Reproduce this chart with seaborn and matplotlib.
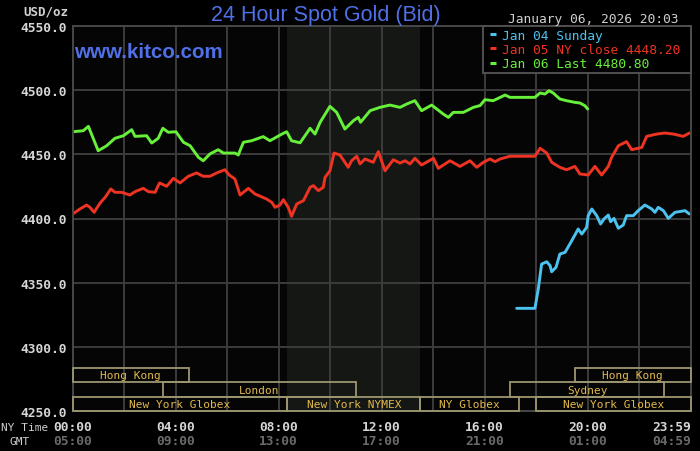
import pandas as pd
import matplotlib.pyplot as plt
import matplotlib.transforms as mtransforms
from matplotlib.lines import Line2D
from matplotlib.patches import Rectangle
import seaborn as sns

# Jan 04 Sunday (hours NY time, price)
jan04_hours = [17.24, 17.95, 18.08, 18.21, 18.41, 18.54, 18.60, 18.77, 18.92, 19.12,
               19.38, 19.63, 19.77, 19.96, 20.02, 20.16, 20.35, 20.50, 20.63, 20.80,
               20.89, 21.02, 21.19, 21.38, 21.51, 21.77, 21.96, 22.22, 22.49, 22.61,
               22.74, 22.94, 23.13, 23.39, 23.78, 23.95]
jan04_price = [4330.0, 4330.0, 4345.0, 4364.5, 4366.3, 4363.2, 4358.5, 4362.0, 4372.3, 4373.6,
               4382.7, 4391.8, 4387.9, 4393.1, 4402.2, 4407.4, 4402.2, 4395.7, 4399.6, 4402.7,
               4397.5, 4400.1, 4392.4, 4394.9, 4402.2, 4402.2, 4406.1, 4410.5, 4407.4, 4404.8,
               4408.7, 4406.1, 4400.1, 4404.8, 4406.1, 4403.5]

# Jan 05 NY close
jan05_hours = [0.00, 0.28, 0.54, 0.67, 0.83, 1.06, 1.26, 1.48, 1.64, 1.90,
               2.22, 2.42, 2.74, 2.94, 3.20, 3.37, 3.65, 3.91, 4.17, 4.49,
               4.81, 5.07, 5.33, 5.59, 5.91, 6.08, 6.30, 6.50, 6.82, 7.08,
               7.53, 7.73, 7.86, 8.05, 8.18, 8.37, 8.50, 8.70, 8.96, 9.22,
               9.35, 9.54, 9.73, 9.80, 9.99, 10.15, 10.38, 10.70, 10.83, 11.03,
               11.16, 11.35, 11.67, 11.87, 12.13, 12.45, 12.71, 12.91, 13.10, 13.29,
               13.55, 14.01, 14.20, 14.65, 15.04, 15.43, 15.69, 15.95, 16.20, 16.40,
               16.60, 16.98, 17.95, 18.15, 18.41, 18.60, 18.92, 19.18, 19.50, 19.70,
               20.02, 20.28, 20.54, 20.80, 20.93, 21.19, 21.51, 21.71, 22.10, 22.29,
               22.68, 23.00, 23.33, 23.71, 23.95]
jan05_price = [4403.5, 4407.4, 4410.5, 4408.7, 4404.8, 4412.0, 4416.5, 4423.0, 4420.4, 4420.4,
               4418.3, 4420.9, 4423.5, 4420.9, 4420.4, 4427.7, 4425.1, 4431.3, 4427.7, 4432.9,
               4435.5, 4432.9, 4432.9, 4435.5, 4438.0, 4433.9, 4430.8, 4418.3, 4423.5, 4419.1,
               4415.2, 4412.6, 4408.7, 4410.5, 4414.7, 4408.7, 4401.7, 4411.3, 4413.9, 4424.3,
               4425.6, 4421.7, 4424.3, 4432.1, 4437.2, 4451.0, 4449.5, 4439.9, 4445.0, 4448.5,
               4442.5, 4446.4, 4443.8, 4452.1, 4437.2, 4445.8, 4443.2, 4445.0, 4442.5, 4446.9,
               4441.7, 4446.9, 4439.1, 4445.0, 4440.6, 4445.0, 4439.9, 4443.8, 4446.4, 4444.3,
               4446.4, 4448.5, 4448.5, 4454.7, 4451.0, 4443.8, 4439.9, 4438.0, 4440.6, 4434.7,
               4433.9, 4440.6, 4433.9, 4440.6, 4447.7, 4456.7, 4459.9, 4453.6, 4455.4, 4464.0,
               4465.8, 4466.6, 4465.8, 4464.0, 4466.6]

# Jan 06 Last
jan06_hours = [0.00, 0.41, 0.61, 0.99, 1.32, 1.64, 1.97, 2.29, 2.42, 2.87,
               3.07, 3.32, 3.50, 3.71, 4.01, 4.30, 4.56, 4.88, 5.07, 5.33,
               5.65, 5.85, 6.30, 6.43, 6.63, 6.95, 7.40, 7.66, 8.18, 8.31,
               8.50, 8.83, 9.02, 9.22, 9.41, 9.61, 9.99, 10.25, 10.57, 10.90,
               11.09, 11.18, 11.55, 11.93, 12.32, 12.71, 12.97, 13.29, 13.55, 13.94,
               14.14, 14.39, 14.59, 14.78, 15.17, 15.56, 15.82, 16.01, 16.33, 16.79,
               16.98, 17.95, 18.15, 18.34, 18.50, 18.66, 18.92, 19.18, 19.50, 19.70,
               19.89, 20.00]
jan06_price = [4467.6, 4468.4, 4471.8, 4452.8, 4456.7, 4462.5, 4464.5, 4469.2, 4464.0, 4464.5,
               4458.8, 4462.5, 4470.3, 4467.2, 4467.6, 4459.4, 4456.7, 4447.7, 4445.0, 4450.3,
               4453.6, 4451.0, 4451.0, 4449.5, 4459.4, 4460.6, 4463.8, 4460.6, 4466.4, 4467.6,
               4460.6, 4459.0, 4464.5, 4470.3, 4465.8, 4475.0, 4487.4, 4482.7, 4469.7, 4476.2,
               4478.8, 4475.0, 4484.0, 4486.6, 4488.4, 4486.6, 4489.2, 4491.8, 4484.0, 4488.4,
               4485.3, 4481.4, 4478.8, 4482.7, 4482.7, 4486.6, 4488.0, 4492.6, 4491.8, 4496.2,
               4494.4, 4494.4, 4497.8, 4497.0, 4499.6, 4497.8, 4493.1, 4491.8, 4490.5, 4490.0,
               4487.9, 4485.3]

series_names = ["Jan 04 Sunday", "Jan 05 NY close 4448.20", "Jan 06 Last 4480.80"]
series_colors = ["#4cc2f0", "#ee3322", "#66f03a"]

y_ticks = [4250, 4300, 4350, 4400, 4450, 4500, 4550]
ny_ticks = [0, 4, 8, 12, 16, 20, 24]
ny_labels = ["00:00", "04:00", "08:00", "12:00", "16:00", "20:00", "23:59"]
gmt_labels = ["05:00", "09:00", "13:00", "17:00", "21:00", "01:00", "04:59"]

# trading sessions: row 0 = bottom
session_names = ["Hong Kong", "London", "New York Globex", "New York NYMEX",
                 "NY Globex", "New York Globex", "Sydney", "Hong Kong"]
session_start = [0, 3.5, 0, 8.33, 13.5, 18.0, 17.0, 19.5]
session_end = [4.5, 11.0, 8.33, 13.5, 17.33, 24.0, 22.95, 24.0]
session_row = [2, 1, 0, 0, 0, 0, 1, 2]
nymex_span = (8.33, 13.5)

df = pd.concat([
    pd.DataFrame({"hour": jan04_hours, "price": jan04_price, "series": series_names[0]}),
    pd.DataFrame({"hour": jan05_hours, "price": jan05_price, "series": series_names[1]}),
    pd.DataFrame({"hour": jan06_hours, "price": jan06_price, "series": series_names[2]}),
])

sns.set_theme(style="dark", rc={
    "figure.facecolor": "black",
    "axes.facecolor": "#050505",
    "axes.edgecolor": "#474747",
    "grid.color": "#3c3c3c",
})
plt.rcParams["font.family"] = ["DejaVu Sans Mono", "DejaVu Sans"]

fig = plt.figure(figsize=(7, 4.52), dpi=100)
ax = fig.add_axes([72.7 / 700, 40 / 452, 618 / 700, 385 / 452])

ax.axvspan(*nymex_span, color="#141714", zorder=0.2, lw=0)

sns.lineplot(data=df, x="hour", y="price", hue="series", hue_order=series_names,
             palette=dict(zip(series_names, series_colors)), estimator=None, sort=False,
             linewidth=2.1, legend=False, ax=ax)

ax.set_xlim(0, 24)
ax.set_ylim(4250, 4550)
ax.set_xticks(range(0, 25, 2))
ax.set_xticklabels([ny_labels[ny_ticks.index(t)] if t in ny_ticks else "" for t in range(0, 25, 2)])
ax.set_yticks(y_ticks)
ax.set_yticklabels([f"{v:.1f}" for v in y_ticks])
ax.tick_params(axis="both", length=0, labelsize=9.3, colors="#d6d6d6")
ax.tick_params(axis="x", pad=6.5)
ax.tick_params(axis="y", pad=4)
for lab in ax.get_xticklabels() + ax.get_yticklabels():
    lab.set_fontweight("bold")
ax.get_xticklabels()[-1].set_horizontalalignment("right")
ax.grid(True, linewidth=1.4)
ax.set_axisbelow(True)
ax.set_xlabel("")
ax.set_ylabel("")
for sp in ax.spines.values():
    sp.set_linewidth(1.4)

# GMT row under the NY time ticks
trans = mtransforms.blended_transform_factory(ax.transData, ax.transAxes)
for t, g in zip(ny_ticks, gmt_labels):
    ax.text(t, -30 / 385, g, transform=trans, ha="right" if t == 24 else "center",
            va="center", fontsize=9.3, fontweight="bold", color="#6a6a6a")
fig.text(48 / 700, 1 - 428 / 452, "NY Time", ha="right", va="center", fontsize=8, color="#cfcfcf")
fig.text(20 / 700, 1 - 442 / 452, "GMT", ha="center", va="center", fontsize=8, color="#cfcfcf")

# trading session boxes
row_h = 14.3 / 385
for name, s, e, r in zip(session_names, session_start, session_end, session_row):
    ax.add_patch(Rectangle((s, r * row_h), e - s, row_h, transform=trans, fill=False,
                           edgecolor="#9c9670", linewidth=1.3, zorder=3, clip_on=False))
    ax.text((s + e) / 2, (r + 0.5) * row_h, name, transform=trans, ha="center", va="center",
            fontsize=8, color="#e2b94a", zorder=4)

# legend box: short dash marker, wider padding left and right
handles = [Line2D([], [], color=c, linestyle="none", marker="_", markersize=4.5,
                  markeredgewidth=2.2) for c in series_colors]
leg = ax.legend(handles, [n + " " for n in series_names], loc="upper right", borderaxespad=0,
                fancybox=False, facecolor="black", edgecolor="#505050", framealpha=1,
                handlelength=1.15, handletextpad=0.15, labelspacing=0.1, borderpad=0.2,
                fontsize=9.3, labelcolor=series_colors)
leg.get_frame().set_linewidth(1.4)
leg.set_zorder(5)

fig.text(326 / 700, 1 - 15 / 452, "24 Hour Spot Gold (Bid)", ha="center", va="center",
         fontsize=15.5, color="#5070e8", family="Liberation Sans")
fig.text(74 / 700, 1 - 52 / 452, "www.kitco.com", ha="left", va="center",
         fontsize=14.8, fontweight="bold", color="#5070e8", family="Liberation Sans")
fig.text(678 / 700, 1 - 20 / 452, "January 06, 2026 20:03", ha="right", va="center",
         fontsize=9.3, color="#d0d0d0")
fig.text(68 / 700, 1 - 12 / 452, "USD/oz", ha="right", va="center", fontsize=9,
         fontweight="bold", color="#d0d0d0")

fig.savefig("out.png", dpi=100, facecolor="black")
